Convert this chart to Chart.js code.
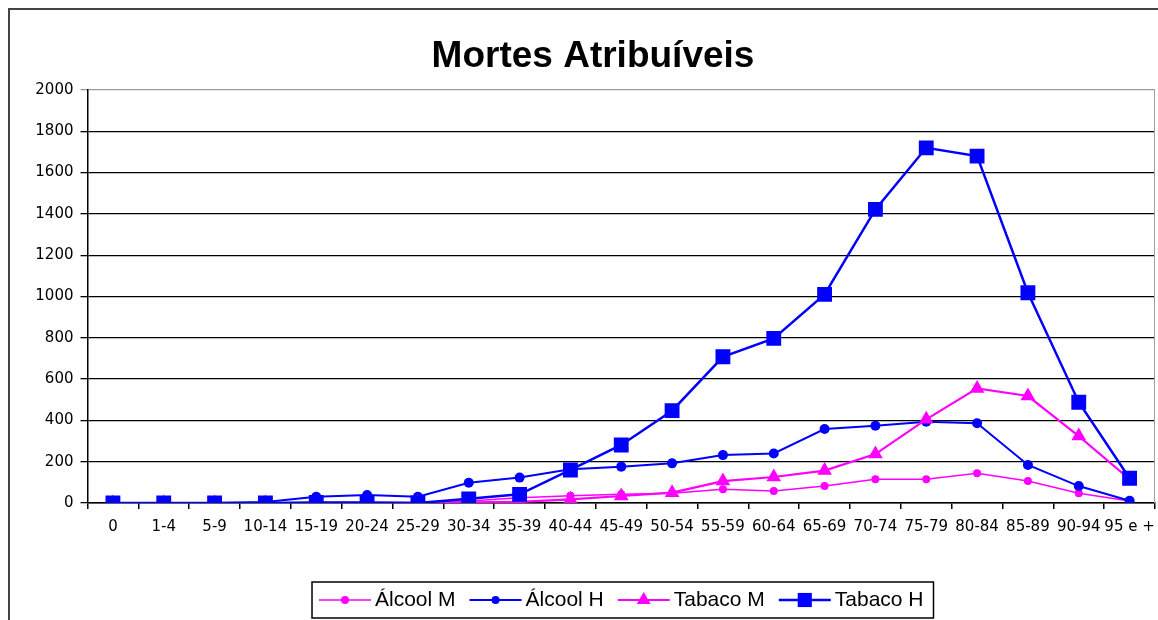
<!DOCTYPE html>
<html>
<head>
<meta charset="utf-8">
<script src="https://cdn.jsdelivr.net/npm/chart.js@4.4.1/dist/chart.umd.min.js"></script>
<style>
  html, body { margin: 0; padding: 0; background: #ffffff; }
  #wrap { position: relative; width: 1158px; height: 620px; overflow: hidden; }
  canvas { position: absolute; left: 0; top: 0; }
</style>
</head>
<body>
<div id="wrap"><canvas id="c" width="1158" height="620"></canvas></div>
<script>
const chartTitle = 'Mortes Atribuíveis';
const ageGroups = ['0','1-4','5-9','10-14','15-19','20-24','25-29','30-34','35-39','40-44','45-49','50-54','55-59','60-64','65-69','70-74','75-79','80-84','85-89','90-94','95 e +'];
const seriesNames = ['Álcool M', 'Álcool H', 'Tabaco M', 'Tabaco H'];
const alcoolM = [0, 0, 0, 0, 2, 3, 3, 10, 25, 35, 42, 47, 66, 58, 82, 115, 115, 144, 106, 47, 10];
const alcoolH = [0, 0, 0, 5, 30, 39, 30, 98, 123, 163, 176, 192, 232, 240, 358, 374, 394, 386, 184, 82, 11];
const tabacoM = [0, 0, 0, 0, 0, 0, 0, 3, 5, 18, 34, 50, 106, 126, 157, 237, 405, 555, 518, 324, 115];
const tabacoH = [0, 0, 0, 0, 3, 3, 0, 20, 42, 160, 281, 447, 708, 797, 1010, 1422, 1720, 1680, 1018, 488, 120];
const yTicks = [0, 200, 400, 600, 800, 1000, 1200, 1400, 1600, 1800, 2000];

const MAGENTA = '#FF00FF';
const BLUE = '#0000FF';
const FONT = '"Liberation Sans", Arial, Helvetica, sans-serif';
const TICKFONT = '"DejaVu Sans", Verdana, sans-serif';

function drawMarker(ctx, style, x, y, r, color) {
  ctx.save();
  ctx.fillStyle = color;
  ctx.beginPath();
  if (style === 'circle') {
    ctx.arc(x, y, r, 0, Math.PI * 2);
  } else if (style === 'triangle') {
    ctx.moveTo(x, y - r);
    ctx.lineTo(x + r * 0.866, y + r * 0.5);
    ctx.lineTo(x - r * 0.866, y + r * 0.5);
    ctx.closePath();
  } else if (style === 'rect') {
    const s = r * Math.SQRT1_2;
    ctx.rect(x - s, y - s, 2 * s, 2 * s);
  }
  ctx.fill();
  ctx.restore();
}

const framePlugin = {
  id: 'frame',
  beforeDraw(chart) {
    const ctx = chart.ctx;
    ctx.save();
    ctx.strokeStyle = '#444444';
    ctx.lineWidth = 2;
    ctx.strokeRect(9, 9, 1170, 640);
    ctx.fillStyle = '#000000';
    ctx.font = 'bold 37px ' + FONT;
    ctx.textAlign = 'center';
    ctx.textBaseline = 'alphabetic';
    ctx.fillText(chartTitle, 593, 67);
    ctx.restore();
  },
  beforeDatasetsDraw(chart) {
    const ctx = chart.ctx;
    const a = chart.chartArea;
    ctx.save();
    ctx.strokeStyle = '#a0a0a0';
    ctx.lineWidth = 1;
    ctx.beginPath();
    ctx.moveTo(a.right - 0.5, a.top);
    ctx.lineTo(a.right - 0.5, a.bottom);
    ctx.stroke();
    ctx.restore();
  }
};

const legendPlugin = {
  id: 'boxLegend',
  afterDraw(chart) {
    const ctx = chart.ctx;
    const a = chart.chartArea;
    const sampleW = 52, gapText = 4, gapItem = 14;
    ctx.save();
    ctx.font = '21px ' + FONT;
    const items = chart.data.datasets.map(ds => ({
      text: ds.label, color: ds.borderColor, lw: ds.borderWidth,
      style: ds.pointStyle, r: ds.legendRadius, tw: ctx.measureText(ds.label).width
    }));
    let total = 0;
    items.forEach((it, i) => { total += sampleW + gapText + it.tw + (i < items.length - 1 ? gapItem : 0); });
    const cx = (a.left + a.right) / 2;
    let x = cx - total / 2;
    const cy = 600;
    ctx.strokeStyle = '#000000';
    ctx.lineWidth = 1.5;
    ctx.strokeRect(x - 7, 582, total + 17, 36);
    items.forEach(it => {
      ctx.strokeStyle = it.color;
      ctx.lineWidth = it.lw;
      ctx.beginPath();
      ctx.moveTo(x, cy);
      ctx.lineTo(x + sampleW, cy);
      ctx.stroke();
      drawMarker(ctx, it.style, x + sampleW / 2, cy, it.r, it.color);
      ctx.fillStyle = '#000000';
      ctx.textBaseline = 'middle';
      ctx.textAlign = 'left';
      ctx.fillText(it.text, x + sampleW + gapText, cy);
      x += sampleW + gapText + it.tw + gapItem;
    });
    ctx.restore();
  }
};

const ctx = document.getElementById('c').getContext('2d');
new Chart(ctx, {
  type: 'line',
  data: {
    labels: ageGroups,
    datasets: [
      { label: seriesNames[0], data: alcoolM, borderColor: MAGENTA, backgroundColor: MAGENTA, borderWidth: 1.5,
        pointStyle: 'circle', pointRadius: 4, pointBorderWidth: 0, legendRadius: 4, order: 3, tension: 0 },
      { label: seriesNames[1], data: alcoolH, borderColor: BLUE, backgroundColor: BLUE, borderWidth: 2,
        pointStyle: 'circle', pointRadius: 5, pointBorderWidth: 0, legendRadius: 4, order: 2, tension: 0 },
      { label: seriesNames[2], data: tabacoM, borderColor: MAGENTA, backgroundColor: MAGENTA, borderWidth: 2.2,
        pointStyle: 'triangle', pointRadius: 8.5, pointBorderWidth: 0, legendRadius: 8, order: 1, tension: 0 },
      { label: seriesNames[3], data: tabacoH, borderColor: BLUE, backgroundColor: BLUE, borderWidth: 2.5,
        pointStyle: 'rect', pointRadius: 10.5, pointBorderWidth: 0, legendRadius: 10, order: 0, tension: 0 }
    ]
  },
  options: {
    responsive: false,
    animation: false,
    devicePixelRatio: 1,
    layout: { autoPadding: false, padding: { left: 0, right: 3, top: 90, bottom: 0 } },
    plugins: {
      legend: { display: false },
      tooltip: { enabled: false },
      title: { display: false }
    },
    scales: {
      x: {
        type: 'category',
        offset: true,
        grid: { display: true, drawOnChartArea: false, drawTicks: true, tickLength: 6, offset: true, color: '#000000', lineWidth: 1.5 },
        border: { display: true, color: '#000000', width: 1.5 },
        ticks: { color: '#000000', font: { family: TICKFONT, size: 15 }, padding: 9, maxRotation: 0, autoSkip: false },
        afterFit(scale) { scale.height = 117; scale.paddingLeft = 0; scale.paddingRight = 0; }
      },
      y: {
        min: 0,
        max: 2000,
        afterBuildTicks(scale) { scale.ticks = yTicks.map(v => ({ value: v })); },
        grid: {
          color: (c) => (c.tick && c.tick.value === 2000 ? '#9a9a9a' : '#000000'),
          lineWidth: 1.3,
          drawTicks: true,
          tickLength: 7
        },
        border: { display: true, color: '#000000', width: 1.5 },
        ticks: { color: '#000000', font: { family: TICKFONT, size: 15 }, padding: 7, callback: (v) => String(v) },
        afterFit(scale) { scale.width = 87.5; }
      }
    }
  },
  plugins: [framePlugin, legendPlugin]
});
</script>
</body>
</html>
